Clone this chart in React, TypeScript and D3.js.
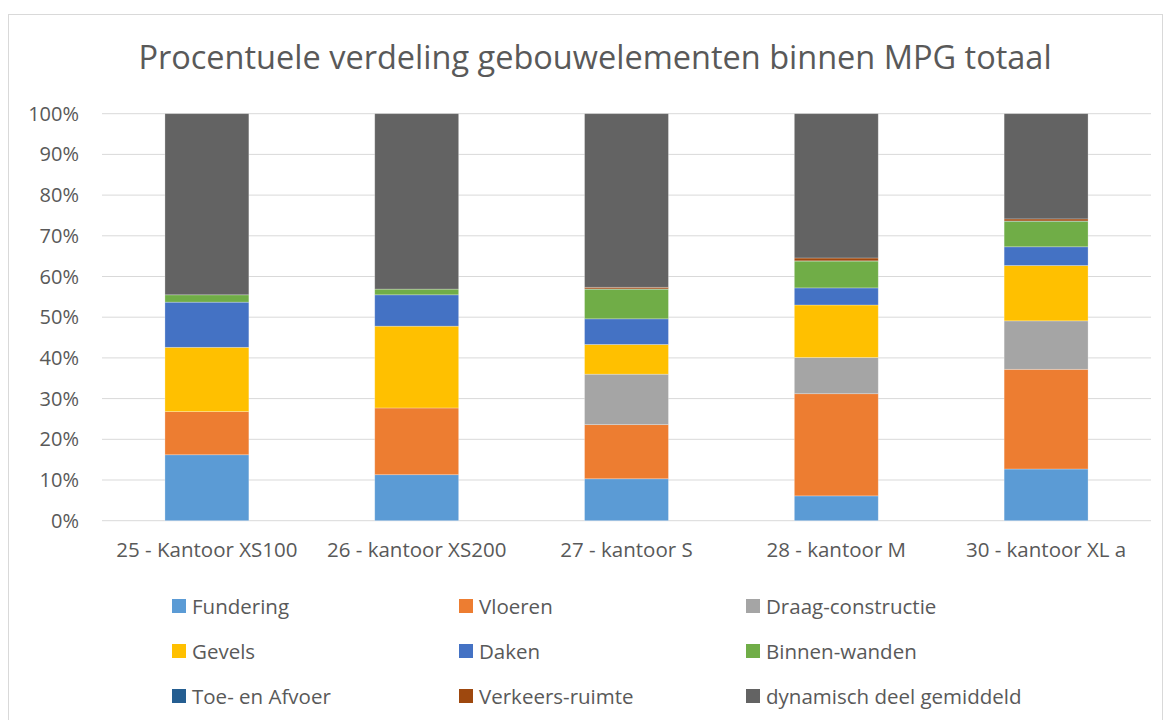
import { useEffect, useRef } from "react";
import * as d3 from "d3";

const categories = ["25 - Kantoor XS100", "26 - kantoor XS200", "27 - kantoor S", "28 - kantoor M", "30 - kantoor XL a"];
const seriesNames = ["Fundering", "Vloeren", "Draag-constructie", "Gevels", "Daken", "Binnen-wanden", "Toe- en Afvoer", "Verkeers-ruimte", "dynamisch deel gemiddeld"];
const seriesColors = ["#5B9BD5", "#ED7D31", "#A5A5A5", "#FFC000", "#4472C4", "#70AD47", "#255E91", "#9E480E", "#636363"];

// percentages per category
const fundering = [16.2, 11.3, 10.3, 6.1, 12.7];
const vloeren = [10.6, 16.4, 13.3, 25.1, 24.5];
const draag = [0, 0, 12.4, 8.9, 11.9];
const gevels = [15.8, 20.1, 7.3, 12.9, 13.6];
const daken = [11.1, 7.7, 6.3, 4.2, 4.6];
const binnen = [1.8, 1.4, 7.3, 6.6, 6.3];
const toeAfvoer = [0, 0, 0.05, 0.05, 0.05];
const verkeers = [0, 0, 0.4, 0.7, 0.5];
const dynamisch = [44.5, 43.1, 42.65, 35.45, 25.85];

const yTicks = [0, 10, 20, 30, 40, 50, 60, 70, 80, 90, 100];

export default function App() {
  const ref = useRef<SVGSVGElement>(null);

  useEffect(() => {
    const svg = d3.select(ref.current);
    svg.selectAll("*").remove();
    const font = "'Open Sans', sans-serif";
    const textColor = "#595959";

    svg.append("rect")
      .attr("x", 8.5).attr("y", 14.5)
      .attr("width", 1154).attr("height", 720)
      .attr("fill", "white").attr("stroke", "#d9d9d9");

    svg.append("text")
      .attr("x", 595).attr("y", 69)
      .attr("text-anchor", "middle")
      .style("font-family", font).style("font-size", "32.5px")
      .attr("fill", textColor)
      .text("Procentuele verdeling gebouwelementen binnen MPG totaal");

    const x = d3.scaleBand().domain(categories).range([102, 1151]).paddingInner(0.6).paddingOuter(0.3);
    const y = d3.scaleLinear().domain([0, 100]).range([520.7, 113.7]);

    const grid = svg.append("g");
    grid.selectAll("line").data(yTicks).join("line")
      .attr("x1", 102).attr("x2", 1151)
      .attr("y1", d => y(d)).attr("y2", d => y(d))
      .attr("stroke", "#d9d9d9").attr("stroke-width", 1);

    svg.append("g").selectAll("text").data(yTicks).join("text")
      .attr("x", 79).attr("y", d => y(d) + 7)
      .attr("text-anchor", "end")
      .style("font-family", font).style("font-size", "20px")
      .attr("fill", textColor)
      .text(d => d + "%");

    const allSeries = [fundering, vloeren, draag, gevels, daken, binnen, toeAfvoer, verkeers, dynamisch];
    const rows = categories.map((c, i) => {
      const row: any = { cat: c };
      seriesNames.forEach((s, j) => { row[s] = allSeries[j][i]; });
      return row;
    });
    const stacked = d3.stack().keys(seriesNames)(rows);

    svg.append("g").selectAll("g").data(stacked).join("g")
      .attr("fill", (_d, i) => seriesColors[i])
      .selectAll("rect").data(d => d).join("rect")
      .attr("x", d => x((d.data as any).cat)!)
      .attr("width", x.bandwidth())
      .attr("y", d => y(d[1]))
      .attr("height", d => Math.max(0, y(d[0]) - y(d[1])))
      .attr("stroke", "white").attr("stroke-opacity", 0.35).attr("stroke-width", 0.75);

    svg.append("g").selectAll("text").data(categories).join("text")
      .attr("x", d => x(d)! + x.bandwidth() / 2).attr("y", 557)
      .attr("text-anchor", "middle")
      .style("font-family", font).style("font-size", "20.5px")
      .attr("fill", textColor)
      .text(d => d);

    const legend = svg.append("g");
    seriesNames.forEach((s, i) => {
      const lx = 172 + (i % 3) * 287;
      const ly = 606 + Math.floor(i / 3) * 45;
      legend.append("rect").attr("x", lx).attr("y", ly - 7).attr("width", 14).attr("height", 14).attr("fill", seriesColors[i]);
      legend.append("text").attr("x", lx + 20).attr("y", ly + 7.5)
        .style("font-family", font).style("font-size", "20.5px")
        .attr("fill", textColor).text(s);
    });
  }, []);

  return <svg ref={ref} width={1166} height={720} style={{ position: "absolute", left: 0, top: 0 }} />;
}
